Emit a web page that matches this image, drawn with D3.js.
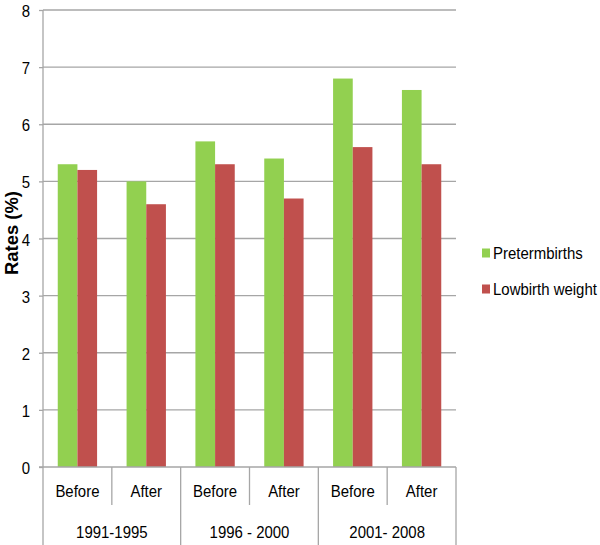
<!DOCTYPE html>
<html lang="en">
<head>
<meta charset="UTF-8">
<title>Rates (%)</title>
<script src="https://d3js.org/d3.v7.min.js"></script>
<style>
    body { margin: 0; background: #fff; font-family: "Liberation Sans", Arial, sans-serif; }
    svg { display: block; }
    .grid { stroke: #a6a6a6; stroke-width: 1.3; }
    .axisline { stroke: #a6a6a6; stroke-width: 1.3; }
</style>
</head>
<body>
<svg id="chart" width="600" height="545"></svg>
<script>
    const groups = ["1991-1995", "1996 - 2000", "2001- 2008"];
    const phases = ["Before", "After"];
    const seriesNames = ["Pretermbirths", "Lowbirth weight"];
    const preterm = [5.3, 5.0, 5.7, 5.4, 6.8, 6.6];
    const lowbirth = [5.2, 4.6, 5.3, 4.7, 5.6, 5.3];
    const colors = ["#92d050", "#c0504d"];
    const yTicks = [0, 1, 2, 3, 4, 5, 6, 7, 8];

    const svg = d3.select("#chart");
    const plot = { left: 43, right: 456, top: 10, bottom: 467 };

    // text drawn in a narrowed group so it keeps its height
    function label(parent, x, y, str, opts = {}) {
        const sx = opts.squeeze || 0.88;
        const g = parent.append("g")
            .attr("transform", `translate(${x},${y}) ${opts.rotate ? "rotate(-90)" : ""} scale(${sx},1)`);
        g.append("text")
            .attr("text-anchor", opts.anchor || "middle")
            .attr("font-size", (opts.size || 17) + "px")
            .attr("font-weight", opts.bold ? "bold" : "normal")
            .attr("fill", "#000")
            .text(str);
        return g;
    }

    // one category per group/phase pair
    const cats = [];
    groups.forEach((g, gi) => phases.forEach((p, pi) => cats.push({ g, p, i: gi * 2 + pi })));

    const x0 = d3.scaleBand().domain(d3.range(cats.length)).range([plot.left, plot.right]);
    const x1 = d3.scaleBand().domain(seriesNames).range([0, x0.bandwidth()])
        .paddingInner(0).paddingOuter(0.75);
    const y = d3.scaleLinear().domain([0, 8]).range([plot.bottom, plot.top]);

    // gridlines
    svg.selectAll(".grid").data(yTicks.filter(d => d > 0)).enter().append("line")
        .attr("class", "grid")
        .attr("x1", plot.left).attr("x2", plot.right)
        .attr("y1", d => y(d)).attr("y2", d => y(d));

    // y axis
    const yAxis = svg.append("g").attr("transform", `translate(${plot.left},0)`)
        .call(d3.axisLeft(y).tickValues(yTicks).tickSize(4).tickFormat(""));
    yAxis.select(".domain").remove();
    yAxis.selectAll(".tick line").attr("stroke", "#a6a6a6").attr("stroke-width", 1.3);
    yTicks.forEach(t => label(svg, plot.left - 13, y(t) + 7, String(t), { anchor: "end", size: 17 }));

    // bars
    const rows = cats.map(c => ({ i: c.i, vals: [preterm[c.i], lowbirth[c.i]] }));
    const catG = svg.selectAll(".cat").data(rows).enter().append("g")
        .attr("transform", d => `translate(${x0(d.i)},0)`);
    catG.selectAll("rect").data(d => d.vals.map((v, k) => ({ k, v }))).enter().append("rect")
        .attr("x", d => x1(seriesNames[d.k]))
        .attr("width", x1.bandwidth())
        .attr("y", d => y(d.v))
        .attr("height", d => y(0) - y(d.v))
        .attr("fill", d => colors[d.k]);

    // category axis
    svg.append("line").attr("class", "axisline")
        .attr("x1", plot.left - 4).attr("x2", plot.right).attr("y1", plot.bottom).attr("y2", plot.bottom);
    svg.append("line").attr("class", "axisline")
        .attr("x1", plot.left).attr("x2", plot.left).attr("y1", plot.top).attr("y2", 545);
    d3.range(1, cats.length + 1).forEach(i => {
        const xx = i < cats.length ? x0(i) : plot.right;
        const isGroupEdge = i % 2 === 0;
        svg.append("line").attr("class", "axisline")
            .attr("x1", xx).attr("x2", xx)
            .attr("y1", plot.bottom).attr("y2", isGroupEdge ? 545 : 505);
    });

    cats.forEach(c => label(svg, x0(c.i) + x0.bandwidth() / 2, 497, c.p));
    groups.forEach((g, gi) => label(svg, x0(gi * 2) + x0.bandwidth(), 538, g));

    // y title
    label(svg, 18, 233, "Rates (%)", { rotate: true, bold: true, size: 19, squeeze: 0.97 });

    // legend
    seriesNames.forEach((name, k) => {
        const cy = 253 + k * 36;
        svg.append("rect").attr("x", 482).attr("y", cy - 4.5).attr("width", 8).attr("height", 9)
            .attr("fill", colors[k]);
        label(svg, 493, cy + 6, name, { anchor: "start", size: 17 });
    });
</script>
</body>
</html>
